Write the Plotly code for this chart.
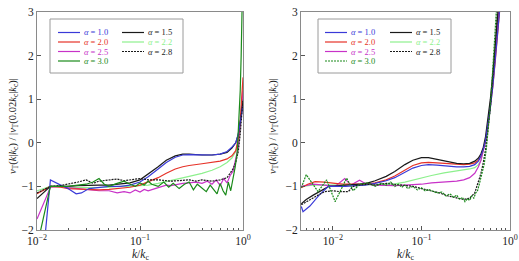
import plotly.graph_objects as go
from plotly.subplots import make_subplots

# ---------------- data (left panel) ----------------
kL_a10 = [0.0118, 0.0135, 0.017, 0.02, 0.024, 0.027, 0.032, 0.04, 0.05, 0.065, 0.08, 0.1, 0.12, 0.15, 0.18, 0.22, 0.26, 0.3, 0.4, 0.5, 0.6, 0.7, 0.78, 0.85, 0.9, 0.94, 0.97, 1.0]
yL_a10 = [-2.3, -0.85, -0.97, -1.05, -1.17, -1.15, -1.05, -1.02, -1.0, -1.0, -0.97, -0.9, -0.78, -0.6, -0.45, -0.33, -0.28, -0.27, -0.28, -0.28, -0.26, -0.2, -0.1, 0.0, 0.2, 0.45, 0.7, 0.85]

kL_a15 = [0.01, 0.012, 0.0135, 0.017, 0.02, 0.025, 0.03, 0.04, 0.05, 0.065, 0.08, 0.1, 0.12, 0.15, 0.18, 0.22, 0.26, 0.3, 0.4, 0.5, 0.6, 0.7, 0.78, 0.85, 0.9, 0.94, 0.97, 1.0]
yL_a15 = [-1.28, -1.1, -1.0, -1.0, -1.0, -0.98, -0.97, -0.97, -0.97, -0.95, -0.92, -0.85, -0.72, -0.55, -0.4, -0.3, -0.26, -0.26, -0.28, -0.28, -0.26, -0.22, -0.12, 0.0, 0.2, 0.45, 0.7, 0.95]

kL_a20 = [0.01, 0.0135, 0.017, 0.02, 0.03, 0.04, 0.05, 0.065, 0.08, 0.1, 0.12, 0.15, 0.18, 0.22, 0.26, 0.3, 0.4, 0.5, 0.6, 0.7, 0.78, 0.85, 0.9, 0.94, 0.97, 1.0]
yL_a20 = [-1.17, -1.0, -1.02, -1.05, -1.07, -1.08, -1.07, -1.05, -1.02, -0.97, -0.9, -0.8, -0.7, -0.6, -0.55, -0.52, -0.48, -0.45, -0.42, -0.37, -0.3, -0.18, 0.1, 0.5, 1.0, 1.5]

kL_a22 = [0.01, 0.0135, 0.017, 0.02, 0.03, 0.04, 0.05, 0.065, 0.08, 0.1, 0.12, 0.15, 0.2, 0.25, 0.3, 0.4, 0.5, 0.6, 0.7, 0.78, 0.85, 0.9, 0.94, 0.97, 1.0]
yL_a22 = [-1.1, -1.0, -1.0, -1.02, -1.03, -1.03, -1.02, -1.0, -1.0, -0.98, -0.97, -0.93, -0.87, -0.82, -0.77, -0.7, -0.63, -0.55, -0.45, -0.35, -0.2, 0.0, 0.4, 0.9, 1.3]

kL_a25 = [0.01, 0.0135, 0.017, 0.02, 0.025, 0.03, 0.04, 0.05, 0.06, 0.07, 0.08, 0.09, 0.1, 0.11, 0.12, 0.14, 0.16, 0.18, 0.2, 0.23, 0.26, 0.3, 0.35, 0.4, 0.45, 0.5, 0.55, 0.6, 0.65, 0.7, 0.75, 0.8, 0.85, 0.9, 0.94, 0.97, 1.0]
yL_a25 = [-1.75, -1.02, -1.0, -1.03, -1.05, -1.07, -1.1, -1.1, -1.15, -1.12, -1.15, -1.08, -1.13, -1.07, -1.1, -1.05, -1.0, -0.97, -0.98, -0.95, -0.93, -0.92, -0.9, -0.93, -0.88, -0.95, -0.85, -0.98, -0.82, -0.92, -0.75, -0.65, -0.4, -0.1, 0.4, 0.9, 1.2]

kL_a28 = [0.01, 0.0135, 0.017, 0.02, 0.025, 0.03, 0.035, 0.04, 0.05, 0.06, 0.07, 0.08, 0.1, 0.12, 0.15, 0.2, 0.25, 0.3, 0.35, 0.4, 0.5, 0.6, 0.7, 0.75, 0.8, 0.85, 0.9, 0.94, 0.97, 1.0]
yL_a28 = [-1.15, -1.0, -0.98, -0.95, -0.9, -0.85, -0.93, -0.88, -0.85, -0.83, -0.87, -0.85, -0.82, -0.85, -0.85, -0.88, -0.87, -0.85, -0.88, -0.85, -0.88, -0.85, -0.8, -0.7, -0.6, -0.45, -0.2, 0.2, 0.6, 1.0]

kL_a30 = [0.0104, 0.0135, 0.017, 0.02, 0.025, 0.03, 0.035, 0.04, 0.045, 0.05, 0.06, 0.07, 0.08, 0.09, 0.1, 0.11, 0.12, 0.13, 0.15, 0.17, 0.19, 0.21, 0.24, 0.27, 0.3, 0.33, 0.36, 0.4, 0.44, 0.48, 0.52, 0.56, 0.6, 0.64, 0.68, 0.72, 0.76, 0.8, 0.84, 0.88, 0.91, 0.94, 0.96, 0.98]
yL_a30 = [-2.2, -1.0, -1.0, -1.0, -0.97, -0.95, -0.9, -0.82, -0.95, -1.0, -0.93, -0.88, -0.95, -1.0, -0.92, -0.97, -0.88, -0.95, -1.0, -0.9, -1.02, -0.93, -1.05, -0.95, -0.9, -1.08, -0.95, -1.05, -1.12, -0.97, -1.08, -1.17, -0.93, -1.1, -1.2, -0.9, -1.1, -0.85, -0.55, -0.2, 0.5, 1.2, 2.0, 3.1]

# ---------------- data (right panel) ----------------
kR_a10 = [0.0044, 0.0046, 0.0055, 0.007, 0.0089, 0.011, 0.014, 0.018, 0.023, 0.03, 0.04, 0.05, 0.065, 0.08, 0.1, 0.12, 0.15, 0.2, 0.25, 0.3, 0.35, 0.4, 0.44, 0.47, 0.5, 0.53, 0.56, 0.6, 0.64, 0.68, 0.72, 0.76, 0.8]
yR_a10 = [-1.46, -1.58, -1.45, -1.2, -1.0, -1.0, -1.0, -0.98, -0.97, -0.93, -0.87, -0.8, -0.68, -0.58, -0.52, -0.5, -0.51, -0.54, -0.55, -0.55, -0.54, -0.5, -0.42, -0.3, -0.15, 0.05, 0.35, 0.8, 1.3, 1.85, 2.4, 2.95, 3.5]

kR_a15 = [0.0044, 0.005, 0.006, 0.0075, 0.009, 0.012, 0.015, 0.02, 0.025, 0.03, 0.04, 0.05, 0.065, 0.08, 0.1, 0.12, 0.15, 0.2, 0.25, 0.3, 0.35, 0.4, 0.44, 0.47, 0.5, 0.53, 0.56, 0.6, 0.64, 0.68, 0.72, 0.76]
yR_a15 = [-1.4, -1.3, -1.2, -1.1, -1.0, -0.98, -0.97, -0.95, -0.92, -0.87, -0.77, -0.66, -0.5, -0.4, -0.34, -0.34, -0.38, -0.43, -0.47, -0.48, -0.47, -0.42, -0.35, -0.25, -0.1, 0.15, 0.5, 1.0, 1.6, 2.2, 2.8, 3.4]

kR_a20 = [0.0044, 0.0052, 0.0063, 0.008, 0.0106, 0.013, 0.016, 0.02, 0.025, 0.03, 0.04, 0.05, 0.065, 0.08, 0.1, 0.12, 0.15, 0.2, 0.25, 0.3, 0.35, 0.4, 0.44, 0.47, 0.5, 0.53, 0.56, 0.6, 0.64, 0.68, 0.72, 0.76, 0.8]
yR_a20 = [-1.03, -0.95, -0.89, -0.9, -0.93, -0.95, -0.95, -0.95, -0.94, -0.92, -0.85, -0.76, -0.62, -0.52, -0.46, -0.45, -0.46, -0.48, -0.5, -0.5, -0.49, -0.46, -0.4, -0.3, -0.15, 0.05, 0.35, 0.8, 1.3, 1.85, 2.4, 2.95, 3.5]

kR_a22 = [0.0044, 0.006, 0.008, 0.011, 0.015, 0.02, 0.03, 0.04, 0.05, 0.065, 0.08, 0.1, 0.13, 0.18, 0.25, 0.3, 0.35, 0.4, 0.44, 0.47, 0.5, 0.53, 0.56, 0.6, 0.64, 0.68, 0.72, 0.76]
yR_a22 = [-1.0, -0.97, -0.97, -0.97, -0.97, -0.97, -0.96, -0.95, -0.94, -0.9, -0.85, -0.8, -0.75, -0.69, -0.65, -0.62, -0.6, -0.57, -0.5, -0.4, -0.2, 0.05, 0.4, 0.85, 1.4, 2.0, 2.6, 3.2]

kR_a25 = [0.0044, 0.006, 0.008, 0.0106, 0.0136, 0.016, 0.02, 0.024, 0.03, 0.04, 0.05, 0.065, 0.08, 0.1, 0.13, 0.18, 0.25, 0.3, 0.35, 0.4, 0.44, 0.47, 0.5, 0.53, 0.56, 0.6, 0.64, 0.68, 0.72, 0.76]
yR_a25 = [-1.0, -0.95, -0.97, -1.0, -0.82, -0.97, -0.86, -0.95, -0.97, -0.98, -0.98, -0.97, -0.96, -0.95, -0.92, -0.9, -0.88, -0.85, -0.8, -0.7, -0.55, -0.4, -0.2, 0.05, 0.4, 0.85, 1.4, 2.0, 2.6, 3.2]

kR_a28 = [0.0044, 0.0055, 0.0068, 0.0081, 0.01, 0.012, 0.0149, 0.017, 0.02, 0.025, 0.03, 0.04, 0.05, 0.065, 0.08, 0.1, 0.13, 0.16, 0.2, 0.25, 0.3, 0.35, 0.4, 0.43, 0.47, 0.5, 0.53, 0.56, 0.6, 0.64, 0.68, 0.72]
yR_a28 = [-1.42, -1.3, -1.2, -1.12, -1.1, -1.12, -1.12, -1.0, -0.97, -0.95, -0.97, -0.93, -0.95, -0.97, -1.0, -1.05, -1.1, -1.15, -1.22, -1.27, -1.3, -1.27, -1.15, -0.95, -0.7, -0.45, -0.15, 0.25, 0.8, 1.5, 2.2, 3.0]

kR_a30 = [0.0044, 0.005, 0.0068, 0.0085, 0.0106, 0.0143, 0.017, 0.02, 0.025, 0.03, 0.035, 0.04, 0.045, 0.05, 0.055, 0.06, 0.065, 0.07, 0.08, 0.09, 0.1, 0.11, 0.12, 0.135, 0.15, 0.17, 0.19, 0.21, 0.23, 0.25, 0.27, 0.29, 0.31, 0.33, 0.35, 0.37, 0.39, 0.41, 0.43, 0.45, 0.48, 0.51, 0.54, 0.57, 0.6, 0.63, 0.66, 0.69, 0.72]
yR_a30 = [-1.03, -0.73, -1.12, -0.85, -1.35, -0.81, -1.1, -0.95, -0.92, -1.0, -0.93, -0.97, -0.9, -1.0, -0.95, -1.02, -0.97, -1.05, -1.0, -1.08, -1.03, -1.1, -1.07, -1.12, -1.15, -1.13, -1.22, -1.17, -1.25, -1.2, -1.3, -1.25, -1.35, -1.28, -1.32, -1.22, -1.27, -1.15, -1.1, -0.95, -0.75, -0.5, -0.15, 0.3, 0.85, 1.5, 2.1, 2.8, 3.4]

x_tickvals = [0.01, 0.1, 1.0]
x_ticktext = ["10<sup>−2</sup>", "10<sup>−1</sup>", "10<sup>0</sup>"]
y_tickvals = [-2, -1, 0, 1, 2, 3]

labels = {"a10": "1.0", "a15": "1.5", "a20": "2.0", "a22": "2.2", "a25": "2.5", "a28": "2.8", "a30": "3.0"}

# ---------------- styles ----------------
colors = {"a10": "#3a3ad8", "a15": "#1a1a1a", "a20": "#e63228", "a22": "#8df08d",
          "a25": "#c832c8", "a28": "#1a1a1a", "a30": "#1a8a1a"}
dashL = {"a28": "2px,1px"}
dashR = {"a28": "2px,1px", "a30": "2px,1px"}
order = ["a22", "a25", "a20", "a15", "a10", "a28", "a30"]

left = {"a10": (kL_a10, yL_a10), "a15": (kL_a15, yL_a15), "a20": (kL_a20, yL_a20),
        "a22": (kL_a22, yL_a22), "a25": (kL_a25, yL_a25), "a28": (kL_a28, yL_a28),
        "a30": (kL_a30, yL_a30)}
right = {"a10": (kR_a10, yR_a10), "a15": (kR_a15, yR_a15), "a20": (kR_a20, yR_a20),
         "a22": (kR_a22, yR_a22), "a25": (kR_a25, yR_a25), "a28": (kR_a28, yR_a28),
         "a30": (kR_a30, yR_a30)}

FONT = "Liberation Serif, DejaVu Serif, serif"
W, H = 519, 261

fig = make_subplots(rows=1, cols=2)
for col, data, dashes in [(1, left, dashL), (2, right, dashR)]:
    for key in order:
        k, y = data[key]
        fig.add_trace(go.Scatter(
            x=k, y=y, mode="lines", name="α = " + labels[key], showlegend=False,
            line=dict(color=colors[key], width=1.2, dash=dashes.get(key, "solid")),
        ), row=1, col=col)

def px2x(p):
    return p / W

def px2y(p):
    return 1 - p / H

axis_common = dict(showline=True, mirror=True, linecolor="#8a8a8a", linewidth=1,
                   showgrid=False, zeroline=False, ticks="inside", ticklen=4,
                   tickcolor="#555", automargin=False,
                   tickfont=dict(family=FONT, size=11.5, color="#222"))

fig.update_xaxes(type="log", tickvals=x_tickvals, ticktext=x_ticktext,
                 minor=dict(ticks="inside", ticklen=2.5, tickcolor="#555", dtick="D1", showgrid=False),
                 **axis_common)
fig.update_yaxes(range=[-2, 3], tickvals=y_tickvals, **axis_common)

fig.update_layout(
    template="none",
    xaxis=dict(domain=[px2x(37), px2x(243)], range=[-2, 0]),
    xaxis2=dict(domain=[px2x(301), px2x(510)], range=[-2.36, 0]),
    yaxis=dict(domain=[px2y(230), px2y(12)]),
    yaxis2=dict(domain=[px2y(230), px2y(12)]),
    width=W, height=H, margin=dict(l=0, r=0, t=0, b=0, pad=0),
    paper_bgcolor="white", plot_bgcolor="white",
    font=dict(family=FONT, color="#222"),
)

ytitle = ("<i>ν</i><sub>T</sub>(<i>k</i>|<i>k</i><sub>c</sub>) / "
          "|<i>ν</i><sub>T</sub>(0.02<i>k</i><sub>c</sub>|<i>k</i><sub>c</sub>)|")
xtitle = "<i>k</i>/<i>k</i><sub>c</sub>"
ann = []
for cx, tx in [(13, 140), (273, 405)]:
    ann.append(dict(x=px2x(cx), y=px2y(126), xref="paper", yref="paper", text=ytitle,
                    xanchor="center", yanchor="middle",
                    textangle=-90, showarrow=False, font=dict(family=FONT, size=10.5, color="#222")))
    ann.append(dict(x=px2x(tx), y=px2y(255), xref="paper", yref="paper", text=xtitle,
                    xanchor="center", yanchor="middle",
                    showarrow=False, font=dict(family=FONT, size=11.5, color="#222")))

# manual two-column legends
shapes = []
legend_cols = [["a10", "a20", "a25", "a30"], ["a15", "a22", "a28"]]
rows_y = [32.5, 42, 51.5, 61]
for (bx0, c1x, c2x), dashes in [((50, 58, 122), dashL), ((318, 325, 390), dashR)]:
    shapes.append(dict(type="rect", xref="paper", yref="paper",
                       x0=px2x(bx0), x1=px2x(bx0 + 133), y0=px2y(73), y1=px2y(19),
                       line=dict(color="#9a9a9a", width=1), fillcolor="white", layer="above"))
    for cx, keys in [(c1x, legend_cols[0]), (c2x, legend_cols[1])]:
        for ry, key in zip(rows_y, keys):
            shapes.append(dict(type="line", xref="paper", yref="paper",
                               x0=px2x(cx), x1=px2x(cx + 22), y0=px2y(ry), y1=px2y(ry),
                               line=dict(color=colors[key], width=1.2, dash=dashes.get(key, "solid")),
                               layer="above"))
            ann.append(dict(x=px2x(cx + 24), y=px2y(ry), xref="paper", yref="paper",
                            xanchor="left", yanchor="middle", showarrow=False,
                            text="<i>α</i> = " + labels[key],
                            font=dict(family=FONT, size=8.5, color=colors[key])))

fig.update_layout(annotations=ann, shapes=shapes)
fig.write_html("out.html")
